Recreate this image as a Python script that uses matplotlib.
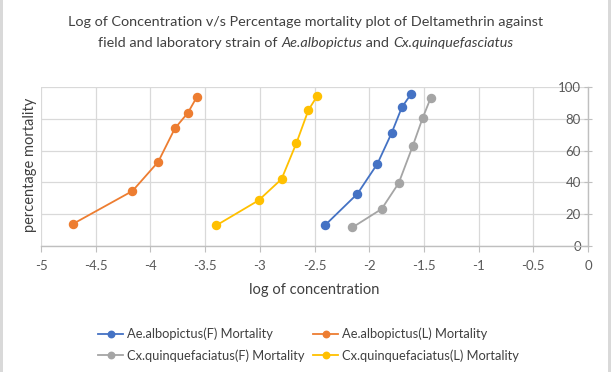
import matplotlib
matplotlib.use("Agg")
import matplotlib.pyplot as plt

# ---- data ----
ae_f_x = [-2.406, -2.107, -1.925, -1.794, -1.701, -1.619]
ae_f_y = [12.9, 32.9, 51.7, 71.2, 87.3, 95.4]
ae_l_x = [-4.705, -4.164, -3.929, -3.776, -3.658, -3.577]
ae_l_y = [14.0, 34.6, 52.9, 74.0, 83.7, 93.5]
cx_f_x = [-2.153, -1.886, -1.730, -1.601, -1.512, -1.438]
cx_f_y = [11.7, 23.3, 39.6, 63.1, 80.4, 93.1]
cx_l_x = [-3.399, -3.011, -2.801, -2.665, -2.555, -2.473]
cx_l_y = [12.9, 28.7, 42.1, 64.8, 85.6, 94.6]

labels = ["Ae.albopictus(F) Mortality", "Ae.albopictus(L) Mortality",
          "Cx.quinquefaciatus(F) Mortality", "Cx.quinquefaciatus(L) Mortality"]
colors = ["#4472C4", "#ED7D31", "#A5A5A5", "#FFC000"]
x_ticks = [-5, -4.5, -4, -3.5, -3, -2.5, -2, -1.5, -1, -0.5, 0]
y_ticks = [0, 20, 40, 60, 80, 100]

plt.rcParams['font.family'] = ['Lato', 'DejaVu Sans']
W, H = 611, 372
fig = plt.figure(figsize=(W / 100, H / 100), dpi=100)
fig.patch.set_facecolor("white")

# side gray bands (chart frame)
fig.add_artist(plt.Rectangle((0, 0), 3 / W, 1, transform=fig.transFigure, color="#d9d9d9", lw=0))
fig.add_artist(plt.Rectangle((1 - 3 / W, 0), 3 / W, 1, transform=fig.transFigure, color="#d9d9d9", lw=0))

ax = fig.add_axes([41 / W, 1 - 246 / H, (588 - 41) / W, (246 - 87) / H])
series = [(ae_f_x, ae_f_y), (ae_l_x, ae_l_y), (cx_f_x, cx_f_y), (cx_l_x, cx_l_y)]
handles = []
for (xs, ys), c, lab in zip(series, colors, labels):
    h, = ax.plot(xs, ys, color=c, lw=1.3, marker="o", ms=5.8, label=lab, zorder=3)
    handles.append(h)

ax.set_xlim(-5, 0)
ax.set_ylim(0, 100)
ax.set_xticks(x_ticks)
ax.set_xticklabels([("%g" % v) for v in x_ticks])
ax.set_yticks(y_ticks)
ax.grid(True, color="#d9d9d9", lw=0.9, zorder=0)
for s in ["top", "left"]:
    ax.spines[s].set_visible(False)
ax.spines["bottom"].set_color("#bfbfbf")
ax.spines["right"].set_color("#bfbfbf")
ax.spines["bottom"].set_linewidth(1.0)
ax.spines["right"].set_linewidth(1.0)

ax.yaxis.tick_right()
ax.tick_params(axis="y", which="major", direction="inout", length=6, color="#bfbfbf",
               labelsize=9.5, labelcolor="#595959", pad=-8)
for t in ax.get_yticklabels():
    t.set_horizontalalignment("right")
ax.tick_params(axis="x", which="major", direction="out", length=4, color="#bfbfbf",
               labelsize=9.5, labelcolor="#595959", pad=6)

ax.set_xlabel("log of concentration", fontsize=10.5, color="#404040", labelpad=8)
fig.text(30 / W, 1 - 165 / H, "percentage mortality", rotation=90, ha="center", va="center",
         fontsize=10.5, color="#404040")

tfs = 10.4
fig.text(0.5, 1 - 22 / H, "Log of Concentration v/s Percentage mortality plot of Deltamethrin against",
         ha="center", va="center", fontsize=tfs, color="#404040")

# second title line with italic pieces
pieces = [("field and laboratory strain of ", "normal"), ("Ae.albopictus", "italic"),
          (" and ", "normal"), ("Cx.quinquefasciatus", "italic")]
renderer = fig.canvas.get_renderer()
arts = []
for txt, st in pieces:
    a = fig.text(0, 1 - 43 / H, txt, ha="left", va="center", fontsize=tfs,
                 color="#404040", fontstyle=st)
    arts.append(a)
widths = [a.get_window_extent(renderer).width for a in arts]
total = sum(widths)
x0 = (W - total) / 2
for a, w in zip(arts, widths):
    a.set_x(x0 / W)
    x0 += w

order = [0, 2, 1, 3]
leg = fig.legend([handles[i] for i in order], [labels[i] for i in order], ncol=2,
                 loc="upper left", bbox_to_anchor=(86 / W, 1 - 316 / H),
                 frameon=False, fontsize=9.3, handlelength=2.0, handletextpad=0.3,
                 columnspacing=0.6, labelspacing=0.7, labelcolor="#404040",
                 markerscale=0.8)

fig.savefig("out.png", dpi=100, facecolor="white")
